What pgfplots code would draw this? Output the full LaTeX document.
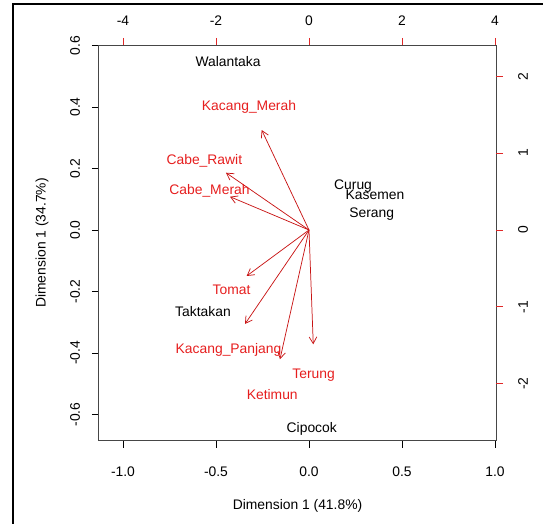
\documentclass[border=0pt]{standalone}
\usepackage{pgfplots}
\pgfplotsset{compat=1.18}
\usepackage{pgfplotstable}
\usepackage{fontspec}
\setmainfont{Liberation Sans}
\usetikzlibrary{arrows.meta}
\definecolor{rtext}{RGB}{230,30,30}
\definecolor{rarrow}{RGB}{200,20,20}
\definecolor{rtick}{RGB}{225,40,40}
\definecolor{boxgray}{RGB}{70,70,70}

\pgfplotstableread{
name x y
Walantaka -0.435 0.553
Curug 0.237 0.150
Kasemen 0.355 0.121
Serang 0.337 0.058
Taktakan -0.570 -0.258
Cipocok 0.015 -0.642
}\obs

\pgfplotstableread{
name lx ly ax ay
Kacang\_Merah -1.29 1.63 -1.017 1.300
Cabe\_Rawit -2.25 0.93 -1.785 0.745
Cabe\_Merah -2.14 0.54 -1.699 0.433
Tomat -1.665 -0.757 -1.340 -0.598
Kacang\_Panjang -1.73 -1.53 -1.376 -1.222
Ketimun -0.79 -2.12 -0.624 -1.681
Terung 0.10 -1.86 0.092 -1.486
}\vars

\pgfplotsset{/pgf/number format/assume math mode=true}

\begin{document}
\begin{tikzpicture}[font=\fontsize{10.4}{12.5}\selectfont]
\useasboundingbox (-74.25pt,-62.25pt) rectangle (333pt,330.75pt);
\begin{axis}[
  at={(0,0)}, anchor=south west, scale only axis,
  width=297.75pt, height=297pt,
  xmin=-1.129, xmax=1.0054, ymin=-0.6862, ymax=0.6016,
  xtick={-1,-0.5,0,0.5,1},
  ytick={-0.6,-0.4,-0.2,0,0.2,0.4,0.6},
  xtick pos=left, ytick pos=left,
  tick align=outside, major tick length=5.25pt,
  tick style={black, line width=0.6pt},
  axis line style={boxgray, line width=0.75pt},
  xticklabel={\pgfmathprintnumber[fixed,fixed zerofill,precision=1,assume math mode=true]{\tick}},
  yticklabel={\pgfmathprintnumber[fixed,fixed zerofill,precision=1,assume math mode=true]{\tick}},
  xticklabel style={anchor=center, inner sep=0pt, yshift=-17.5pt},
  yticklabel style={anchor=center, inner sep=0pt, xshift=-12.75pt, rotate=90},
  xlabel={Dimension 1 (41.8\%)},
  ylabel={Dimension 1 (34.7\%)},
  every axis x label/.style={at={(axis description cs:0.5,-0.165)}, anchor=center},
  every axis y label/.style={at={(axis description cs:-0.1435,0.5)}, anchor=center, rotate=90},
  clip=false,
]
\addplot[only marks, mark=*, mark size=0pt, mark options={draw opacity=0, fill opacity=0},
  nodes near coords, point meta=explicit symbolic,
  nodes near coords style={anchor=center, inner sep=0pt, yshift=-1.5pt, text=black, opacity=1}]
  table[x=x, y=y, meta=name] {\obs};
\end{axis}
\begin{axis}[
  at={(0,0)}, anchor=south west, scale only axis,
  width=297.75pt, height=297pt,
  xmin=-4.516, xmax=4.022, ymin=-2.744, ymax=2.406,
  xtick={-4,-2,0,2,4}, ytick={-2,-1,0,1,2},
  xtick pos=right, ytick pos=right,
  xticklabel pos=right, yticklabel pos=right,
  tick align=outside, major tick length=5.25pt,
  tick style={rtick, line width=0.6pt},
  axis line style={draw=none},
  xticklabel style={anchor=center, inner sep=0pt, yshift=12.75pt},
  yticklabel style={anchor=center, inner sep=0pt, xshift=15pt, rotate=90},
  clip=false,
]
\addplot[quiver={u=\thisrow{ax}, v=\thisrow{ay}}, draw=rarrow, line width=0.55pt,
  -{Straight Barb[length=5pt,width=5.8pt]}]
  table[x expr=0, y expr=0] {\vars};
\addplot[only marks, mark=*, mark size=0pt, mark options={draw opacity=0, fill opacity=0},
  nodes near coords, point meta=explicit symbolic,
  nodes near coords style={anchor=center, inner sep=0pt, yshift=-1.5pt, text=rtext, opacity=1}]
  table[x=lx, y=ly, meta=name] {\vars};
\end{axis}
\draw[line width=1.5pt, black] (-64.5pt,-62.25pt) -- (-64.5pt,327.4pt) -- (333pt,327.4pt);
\end{tikzpicture}
\end{document}
